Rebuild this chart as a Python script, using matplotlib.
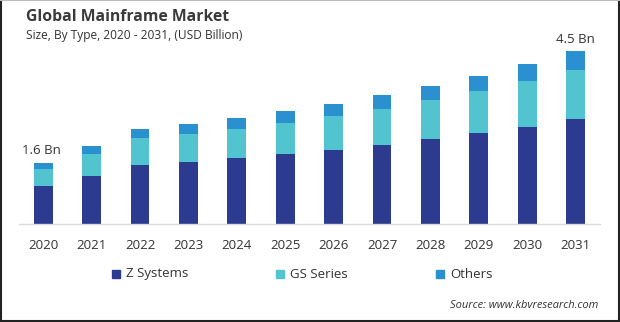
import numpy as np
import matplotlib.pyplot as plt
from matplotlib.patches import Rectangle
from matplotlib.lines import Line2D

plt.rcParams['font.family'] = ['Open Sans', 'DejaVu Sans']

years = ["2020", "2021", "2022", "2023", "2024", "2025",
         "2026", "2027", "2028", "2029", "2030", "2031"]
z_systems = [0.99, 1.25, 1.54, 1.61, 1.72, 1.82, 1.93, 2.06, 2.21, 2.37, 2.52, 2.73]
gs_series = [0.44, 0.57, 0.70, 0.73, 0.76, 0.81, 0.89, 0.94, 1.02, 1.09, 1.20, 1.28]
others = [0.16, 0.22, 0.24, 0.26, 0.29, 0.31, 0.31, 0.36, 0.36, 0.39, 0.44, 0.49]
end_labels = {0: "1.6 Bn", 11: "4.5 Bn"}

c_z = "#2C3A8F"
c_gs = "#52C4CF"
c_ot = "#2B90CF"
text_c = "#333333"

fig = plt.figure(figsize=(6.2, 3.22), dpi=100)
ax = fig.add_axes([0.0306, 0.3043, 0.937, 0.5714])

x = np.arange(len(years))
z = np.array(z_systems)
gs = np.array(gs_series)
ot = np.array(others)
w = 0.39
ax.bar(x, z, w, color=c_z)
ax.bar(x, gs, w, bottom=z, color=c_gs)
ax.bar(x, ot, w, bottom=z + gs, color=c_ot)

total = z + gs + ot
for i, lab in end_labels.items():
    ax.annotate(lab, (x[i], total[i]), xytext=(-1 if i == 0 else 0, 4), textcoords="offset points",
                ha="center", va="bottom", fontsize=9.5, color=text_c)

ax.set_xlim(-0.5, 11.5)
ax.set_ylim(0, 4.79)
ax.set_xticks(x)
ax.set_xticklabels(years, fontsize=9.5, color=text_c)
ax.tick_params(axis="x", length=0, pad=11)
ax.set_yticks([])
for s in ["top", "right", "left"]:
    ax.spines[s].set_visible(False)
ax.spines["bottom"].set_color("#D9D9D9")
ax.spines["bottom"].set_linewidth(1.0)

fig.text(26 / 620, 1 - 17 / 322, "Global Mainframe Market", fontsize=11.3,
         fontweight="bold", color="#3A3A3A", ha="left", va="center")
fig.text(26 / 620, 1 - 36 / 322, "Size, By Type, 2020 - 2031, (USD Billion)",
         fontsize=8.6, color=text_c, ha="left", va="center")

# legend drawn by hand so the entries sit at fixed spots
for px, lab, col in [(115.5, "Z Systems", c_z), (280, "GS Series", c_gs), (440, "Others", c_ot)]:
    fig.patches.append(Rectangle((px / 620 - 4 / 620, 1 - 278 / 322), 8 / 620, 8 / 322,
                                 transform=fig.transFigure, color=col))
    fig.text((px + 10) / 620, 1 - 274 / 322, lab, fontsize=9.5, color=text_c,
             ha="left", va="center")

fig.text(598 / 620, 1 - 306 / 322, "Source: www.kbvresearch.com", fontsize=8,
         style="italic", color=text_c, ha="right", va="center")

# frame around the picture
fig.lines.append(Line2D([0.001, 0.001], [0, 1], transform=fig.transFigure, color="#222222", lw=1.5))
fig.lines.append(Line2D([0.999, 0.999], [0, 1], transform=fig.transFigure, color="#222222", lw=1.5))
fig.lines.append(Line2D([0, 1], [0.003, 0.003], transform=fig.transFigure, color="#222222", lw=1.5))
fig.lines.append(Line2D([0, 1], [0.999, 0.999], transform=fig.transFigure, color="#BBBBBB", lw=0.8))

fig.savefig("out.png", dpi=100)
